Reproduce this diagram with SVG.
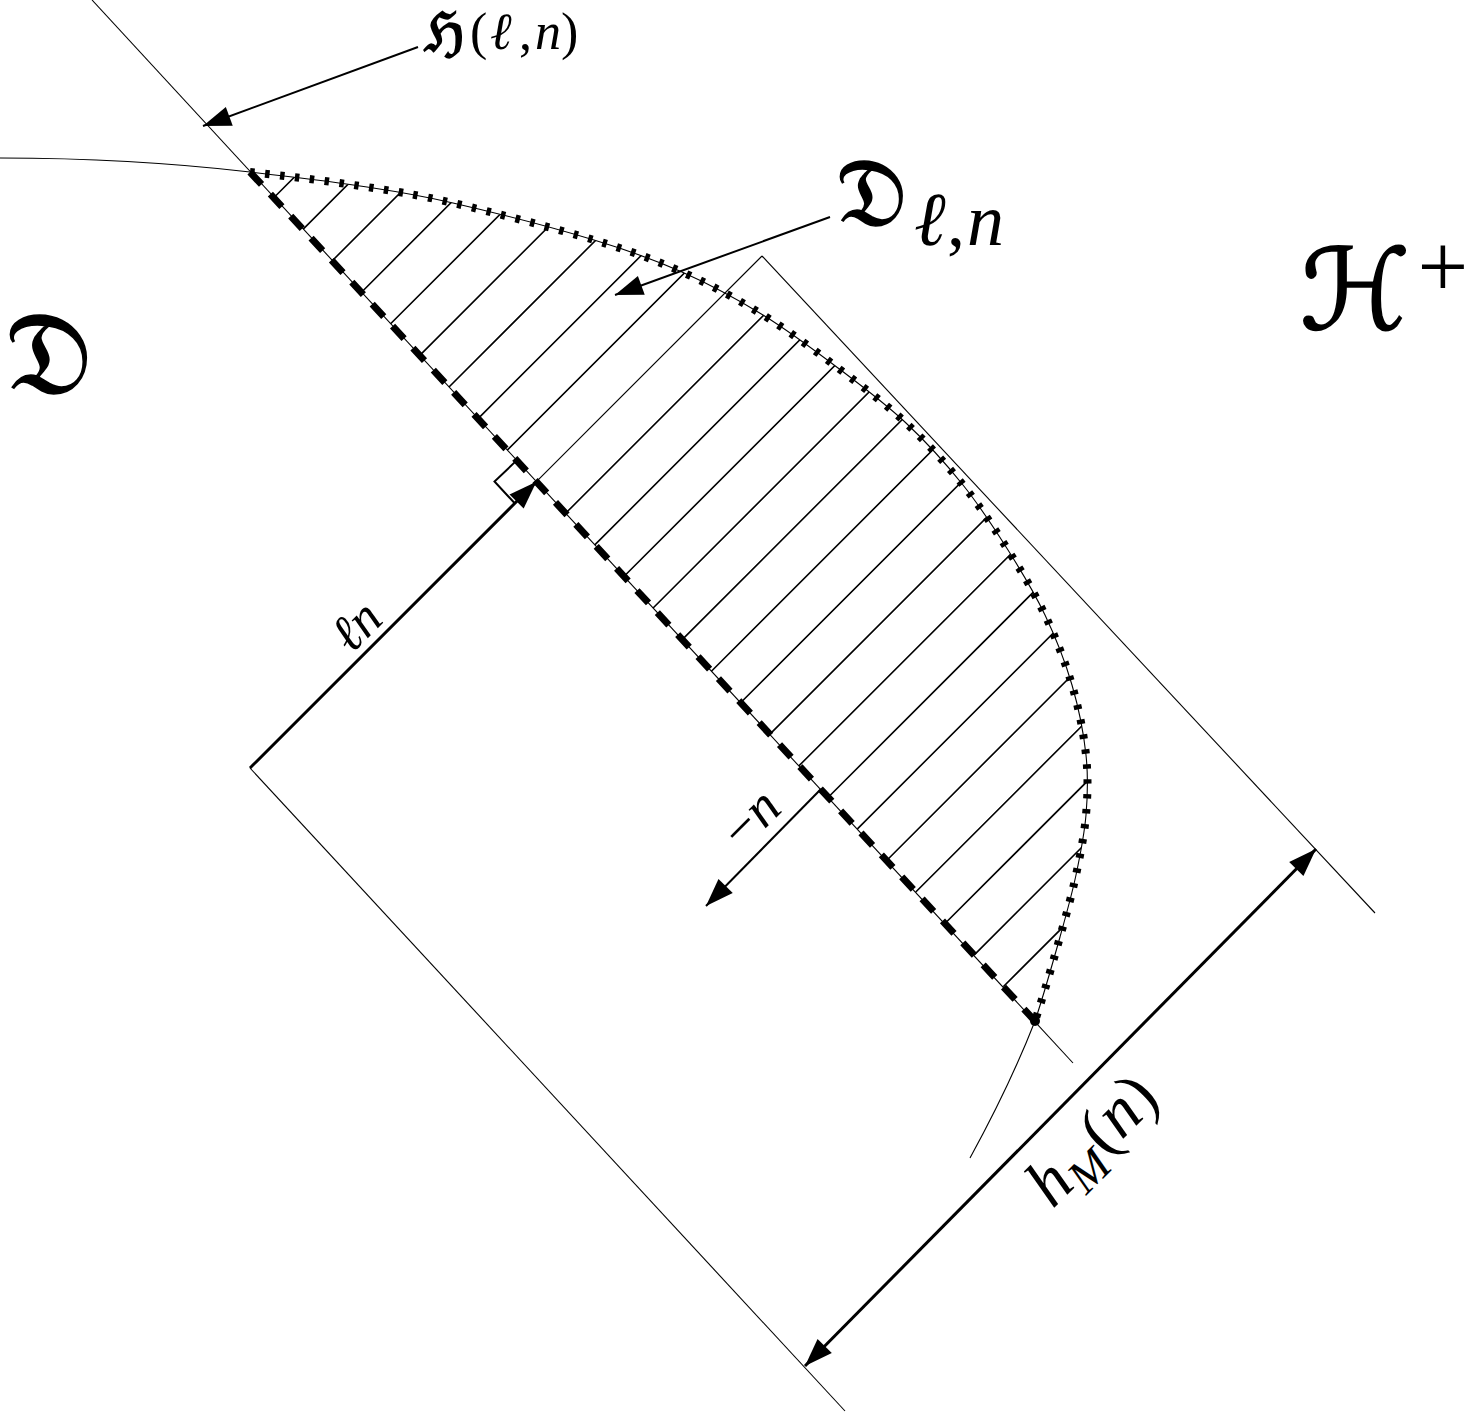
<svg xmlns="http://www.w3.org/2000/svg" width="1473" height="1412" viewBox="0 0 1473 1412">
<style>
.thin{fill:none;stroke:#000;stroke-width:1.1}
.hatch{fill:none;stroke:#000;stroke-width:1.6}
.dash{fill:none;stroke:#000;stroke-width:7;stroke-dasharray:17 13}
.dots{fill:none;stroke:#000;stroke-width:8;stroke-dasharray:4.5 10.5}
.arr{fill:none;stroke:#000;marker-end:url(#ah)}
text{fill:#000}
.mi{font-family:"Liberation Serif",serif;font-style:italic}
.rm{font-family:"Liberation Serif",serif}
.sym{font-family:"DejaVu Serif","DejaVu Sans",serif}
.bold{stroke:#000;stroke-width:1.6}
</style>
<defs>
<marker id="ah" viewBox="-29 -11 31 22" refX="0" refY="0" markerWidth="31" markerHeight="22" markerUnits="userSpaceOnUse" orient="auto-start-reverse">
<path d="M0,0 L-28,-10 L-28,10 Z" fill="#000"/>
</marker>
<path id="curve" d="M250,172 C288.3,176.3 326.2,180.8 360,186 C393.8,191.2 414,194 453,203 C492,212 555.8,228.5 594,240 C632.2,251.5 653.8,259.5 682,272 C710.2,284.5 737,299 763,315 C789,331 814.2,350 838,368 C861.8,386 885.2,403.5 906,423 C926.8,442.5 946,463.8 963,485 C980,506.2 994.3,528.3 1008,550 C1021.7,571.7 1034.3,592.5 1045,615 C1055.7,637.5 1065.2,661.7 1072,685 C1078.8,708.3 1083.7,733.3 1086,755 C1088.3,776.7 1087.7,795 1086,815 C1084.3,835 1080.3,854.7 1076,875 C1071.7,895.3 1066.8,912.7 1060,937 C1053.2,961.3 1043.3,996.3 1035,1021"/>
<clipPath id="region">
<path d="M250,172 C288.3,176.3 326.2,180.8 360,186 C393.8,191.2 414,194 453,203 C492,212 555.8,228.5 594,240 C632.2,251.5 653.8,259.5 682,272 C710.2,284.5 737,299 763,315 C789,331 814.2,350 838,368 C861.8,386 885.2,403.5 906,423 C926.8,442.5 946,463.8 963,485 C980,506.2 994.3,528.3 1008,550 C1021.7,571.7 1034.3,592.5 1045,615 C1055.7,637.5 1065.2,661.7 1072,685 C1078.8,708.3 1083.7,733.3 1086,755 C1088.3,776.7 1087.7,795 1086,815 C1084.3,835 1080.3,854.7 1076,875 C1071.7,895.3 1066.8,912.7 1060,937 C1053.2,961.3 1043.3,996.3 1035,1021 Z"/>
</clipPath>
</defs>
<rect width="1473" height="1412" fill="#fff"/>

<g id="hatching" clip-path="url(#region)">
<path class="hatch" d="M274,197.5 l400,-400 M303.2,229.1 l400,-400 M332.3,260.7 l400,-400 M361.5,292.2 l400,-400 M390.6,323.8 l400,-400 M419.8,355.4 l400,-400 M449,387 l400,-400 M478.1,418.6 l400,-400 M507.3,450.1 l400,-400 M565.6,513.3 l400,-400 M594.8,544.9 l400,-400 M623.9,576.5 l400,-400 M653.1,608 l400,-400 M682.2,639.6 l400,-400 M711.4,671.2 l400,-400 M740.6,702.8 l400,-400 M769.7,734.4 l400,-400 M798.9,765.9 l400,-400 M828,797.5 l400,-400 M857.2,829.1 l400,-400 M886.4,860.7 l400,-400 M915.5,892.3 l400,-400 M944.7,923.8 l400,-400 M973.8,955.4 l400,-400 M1003,987 l400,-400"/>
</g>

<g id="lines">
<path class="thin" d="M92,0 L1073,1063"/>
<path class="thin" d="M762,256 L1375,913"/>
<path class="thin" d="M250,768 L845,1411"/>
<path class="thin" d="M536.4,481.7 L762,256"/>
<path class="thin" d="M0,158 Q130,158 250,172"/>
<path class="thin" d="M1035,1021 Q1010,1085 970,1158"/>
<use href="#curve" class="thin"/>
</g>

<g id="hyperplane-dashes">
<path class="dash" d="M250,172 L1035,1021"/>
</g>
<g id="boundary-dots">
<use href="#curve" class="dots"/>
<circle cx="1035" cy="1021" r="5" fill="#000"/>
</g>

<g id="right-angle">
<path d="M516.7,460.4 L494.5,481.5 L514.5,503" fill="none" stroke="#000" stroke-width="2"/>
</g>

<g id="connectors">
<path class="arr" stroke-width="2" d="M418,47 L203,126"/>
<path class="arr" stroke-width="2" d="M830,217 L615,295"/>
<path class="arr" stroke-width="3" d="M250,768 L536.4,481.7"/>
<path class="arr" stroke-width="2" d="M821,789 L706,906"/>
<path class="arr" stroke-width="3" style="marker-start:url(#ah)" d="M805,1366 L1316,849"/>
</g>

<g id="label-H">
<text y="49" font-size="52"><tspan x="424" y="51" font-size="54" class="sym bold">ℌ</tspan><tspan x="470" y="49" class="rm">(</tspan><tspan x="490" class="mi">ℓ</tspan><tspan x="519" class="rm">,</tspan><tspan x="535" class="mi">n</tspan><tspan x="561" class="rm">)</tspan></text>
</g>
<g id="label-D">
<text x="5" y="394" font-size="118" class="sym bold">𝔇</text>
</g>
<g id="label-Dln">
<text y="226" font-size="96"><tspan x="836" class="sym bold">𝔇</tspan><tspan x="914" y="245" font-size="76" class="mi">ℓ</tspan><tspan x="947" y="245" font-size="72" class="rm">,</tspan><tspan x="967" y="245" font-size="74" class="mi">n</tspan></text>
</g>
<g id="label-Hplus">
<text x="1300" y="329" font-size="112" class="sym bold">ℋ</text>
<text x="1443" y="297" font-size="90" text-anchor="middle" class="rm">+</text>
</g>
<g id="label-ln">
<text transform="translate(368,638) rotate(-45)" text-anchor="middle" font-size="52"><tspan class="mi">ℓ</tspan><tspan class="mi">n</tspan></text>
</g>
<g id="label-minus-n">
<text transform="translate(763,831) rotate(-45)" text-anchor="middle" font-size="55"><tspan class="rm">−</tspan><tspan class="mi">n</tspan></text>
</g>
<g id="label-hM">
<text transform="translate(1107,1155) rotate(-45)" text-anchor="middle" font-size="68"><tspan class="mi">h</tspan><tspan class="mi" font-size="47" dy="14">M</tspan><tspan class="rm" dy="-14" dx="2">(</tspan><tspan class="mi">n</tspan><tspan class="rm">)</tspan></text>
</g>
</svg>
